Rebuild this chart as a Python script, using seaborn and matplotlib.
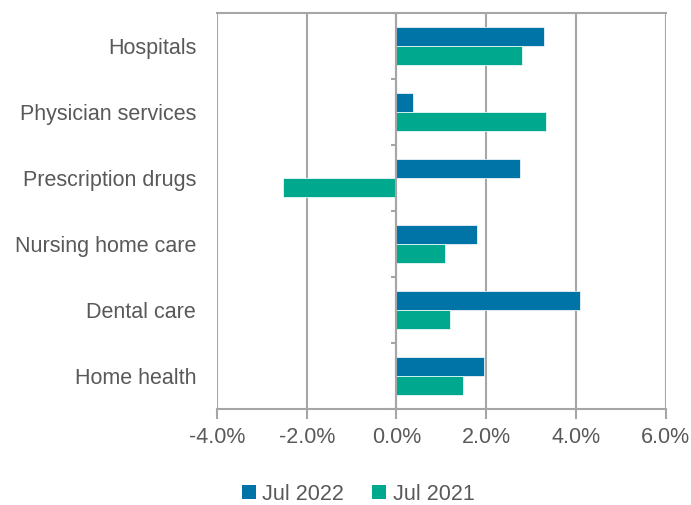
import matplotlib
matplotlib.use("Agg")
import matplotlib.pyplot as plt
import seaborn as sns
import pandas as pd
from matplotlib.ticker import FuncFormatter, FixedLocator
from matplotlib.patches import Patch

categories = ["Hospitals", "Physician services", "Prescription drugs",
              "Nursing home care", "Dental care", "Home health"]
jul_2022 = [3.28, 0.37, 2.76, 1.79, 4.10, 1.95]
jul_2021 = [2.79, 3.33, -2.54, 1.09, 1.20, 1.48]
series = ["Jul 2022", "Jul 2021"]
colors = ["#0073A7", "#00A98E"]
xticks = [-4, -2, 0, 2, 4, 6]

df = pd.DataFrame({
    "category": categories * 2,
    "value": jul_2022 + jul_2021,
    "series": [series[0]] * len(categories) + [series[1]] * len(categories),
})

sns.set_theme(style="white")
plt.rcParams["font.family"] = ["Liberation Sans", "DejaVu Sans"]
text_color = "#595959"
grid_color = "#A6A6A6"
fs = 15.5

fig = plt.figure(figsize=(6.91, 5.05), dpi=100)
ax = fig.add_axes([217 / 691, 1 - 409 / 505, (665.7 - 217) / 691, (409 - 13) / 505])

sns.barplot(data=df, y="category", x="value", hue="series", order=categories,
            hue_order=series, palette=colors, orient="h", width=0.576, gap=0,
            saturation=1, ax=ax, legend=False, zorder=3, linewidth=0.5)

ax.set_xlim(-4, 6)
ax.set_ylim(len(categories) - 0.5, -0.5)
ax.xaxis.set_major_locator(FixedLocator(xticks))
ax.xaxis.set_major_formatter(FuncFormatter(lambda v, p: f"{v:.1f}%"))
ax.grid(axis="x", color=grid_color, linewidth=1.5, zorder=0)
ax.grid(axis="y", visible=False)
ax.set_xlabel("")
ax.set_ylabel("")

ax.set_yticks(range(len(categories)))
ax.set_yticklabels(categories)
ax.tick_params(axis="y", length=0, labelsize=fs, labelcolor=text_color, pad=15)
ax.tick_params(axis="x", length=7, width=1.5, color=grid_color, direction="out", bottom=True,
               labelsize=fs, labelcolor=text_color, pad=6)

# category axis line at zero with boundary tick marks
ax.axvline(0, color=grid_color, linewidth=1.5, zorder=4)
boundaries = [i + 0.5 for i in range(-1, len(categories))]
ax.hlines(boundaries, -0.13, 0, color=grid_color, linewidth=1.5, zorder=4, clip_on=False)

for s in ["top", "bottom"]:
    ax.spines[s].set_visible(True)
    ax.spines[s].set_color(grid_color)
    ax.spines[s].set_linewidth(1.5)
ax.spines["right"].set_visible(False)
ax.spines["left"].set_visible(False)

handles = [Patch(facecolor=c, edgecolor="none", label=l) for c, l in zip(colors, series)]
fig.legend(handles=handles, loc="center", bbox_to_anchor=(358 / 691, 1 - 494 / 505), ncol=2,
           frameon=False, fontsize=fs, labelcolor=text_color, handlelength=0.65,
           handleheight=0.65, handletextpad=0.3, columnspacing=1.3)

fig.savefig("out.png", dpi=100)
